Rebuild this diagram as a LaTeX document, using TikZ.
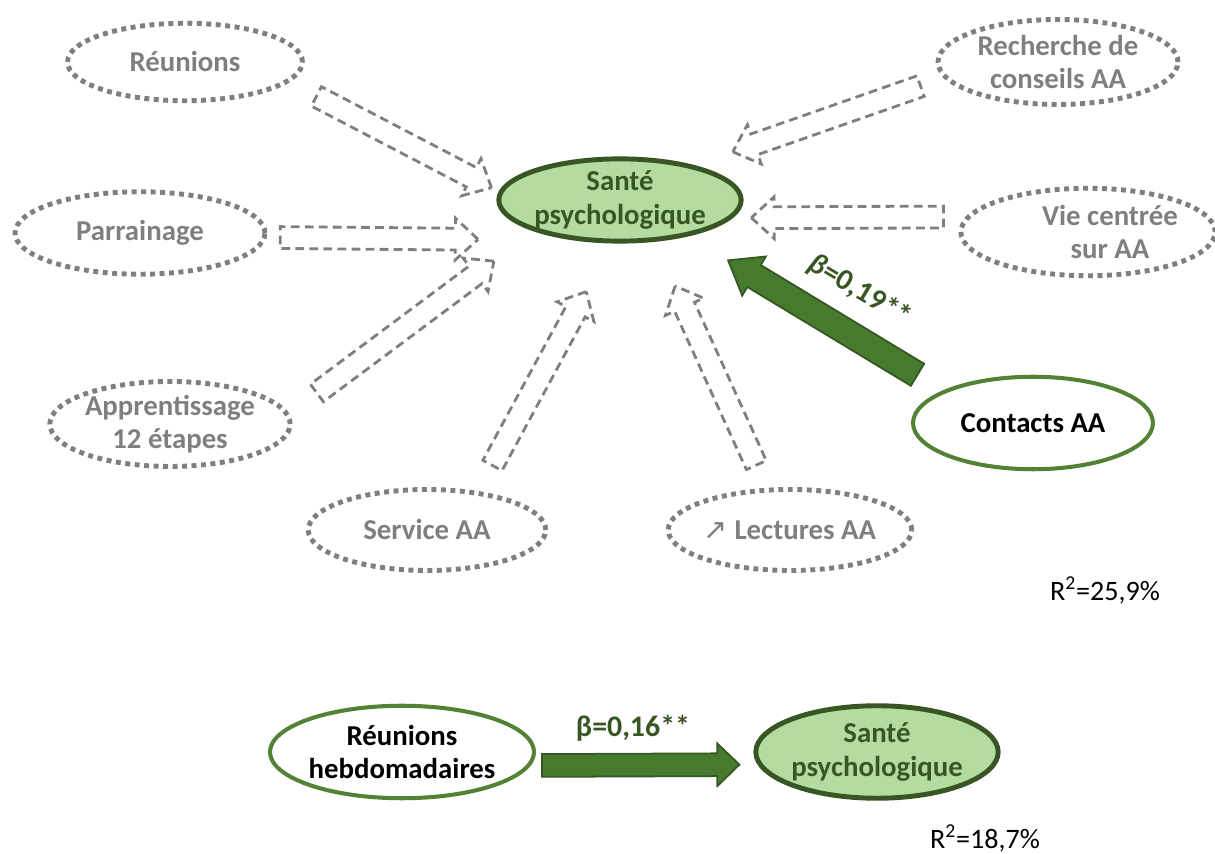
\documentclass[tikz,border=0pt]{standalone}
\usepackage{fontspec}
\setmainfont{Carlito}
\newfontfamily\flechefont{DejaVu Sans}
\usepackage{tikz}
\usetikzlibrary{shapes.geometric,shapes.arrows,calc}
\definecolor{gristrait}{HTML}{7F7F7F}
\definecolor{vertfonce}{HTML}{375623}
\definecolor{vertmoyen}{HTML}{538135}
\definecolor{vertfleche}{HTML}{467A2C}
\definecolor{vertpale}{HTML}{B4DCA0}

% fleche bloc entre deux ancres, raccourcie de #3 et #5
\newcommand\fleche[5]{%
  \path let \p1=($(#2)!#3!(#4)$), \p2=($(#4)!#5!(#2)$),
    \n1={atan2(\y2-\y1,\x2-\x1)}, \n2={veclen(\x2-\x1,\y2-\y1)} in
    node[#1,rotate=\n1,minimum height=\n2] at ($(\p1)!0.5!(\p2)$) {};}

\begin{document}
\begin{tikzpicture}[x=0.02cm,y=-0.02cm,font=\bfseries\fontsize{16.4}{19}\selectfont,
  facteur/.style={ellipse,draw=gristrait,line width=2.8pt,dash pattern=on 2.8pt off 2.6pt,text=gristrait,align=center,inner sep=0pt},
  sante/.style={ellipse,draw=vertfonce,fill=vertpale,line width=2.8pt,text=vertfonce,align=center,inner sep=0pt},
  predicteur/.style={ellipse,draw=vertmoyen,line width=2.3pt,align=center,inner sep=0pt},
  pointille/.style={single arrow,draw=gristrait,line width=1.6pt,dash pattern=on 5pt off 3pt,inner xsep=0pt,inner ysep=0.19cm,
    single arrow head extend=0.2cm,single arrow tip angle=85},
  effet/.style={single arrow,draw=vertfonce,fill=vertfleche,line width=1pt,inner xsep=0pt},
  coef/.style={text=vertfonce,font=\bfseries\fontsize{17}{20}\selectfont}]
\useasboundingbox (0,0) rectangle (1215,854);

\node[sante,minimum width=4.7cm,minimum height=1.6cm] (sante) at (620,200) {Santé\\psychologique};
\node[facteur,minimum width=4.7cm,minimum height=1.55cm] (reunions) at (185,62) {Réunions};
\node[facteur,minimum width=5cm,minimum height=1.65cm] (parrainage) at (140,233) {Parrainage};
\node[facteur,minimum width=4.75cm,minimum height=1.7cm] (apprentissage) at (170,424) {Apprentissage\\12 étapes};
\node[facteur,minimum width=4.75cm,minimum height=1.62cm] (service) at (427,530) {Service AA};
\node[facteur,minimum width=4.75cm,minimum height=1.62cm] (lectures) at (790,530) {{\flechefont\mdseries ↗} Lectures AA};
\node[facteur,minimum width=4.8cm,minimum height=1.7cm] (recherche) at (1058,62) {Recherche de\\conseils AA};
\node[facteur,minimum width=4.8cm,minimum height=1.75cm] (vie) at (1088,232) {\hspace*{0.88cm}Vie centrée\\\hspace*{0.88cm}sur AA};
\node[predicteur,minimum width=4.8cm,minimum height=1.85cm] (contacts) at (1033,423) {Contacts AA};

\fleche{pointille}{reunions.-11}{0.49cm}{sante.176}{0.28cm}
\fleche{pointille}{parrainage.-2}{0.15cm}{sante.-140}{2cm}
\fleche{pointille}{apprentissage.5}{0.57cm}{sante.-160}{1.12cm}
\fleche{pointille}{service.37}{0.46cm}{sante.-100}{1.21cm}
\fleche{pointille}{lectures.119}{0.38cm}{sante.-50}{1.09cm}
\fleche{pointille}{recherche.-172}{0.37cm}{sante.25}{0.93cm}
\fleche{pointille}{vie.173}{0.32cm}{sante.-9}{0.49cm}
\fleche{effet,inner ysep=0.24cm,single arrow head extend=0.2cm,single arrow tip angle=74}{contacts.160}{0.43cm}{sante.-28}{1.1cm}
\node[coef,rotate=-30.8] (beta1) at (860,291) {\textit{β}=0,19**};
\node[font=\mdseries\fontsize{16}{19}\selectfont] (r1) at (1105,590) {R\textsuperscript{2}=25,9\%};

\node[predicteur,minimum width=5.2cm,minimum height=1.85cm] (hebdo) at (402,752) {Réunions\\hebdomadaires};
\node[sante,minimum width=4.8cm,minimum height=1.85cm] (sante2) at (877,752) {Santé\\psychologique};
\fleche{effet,inner ysep=0.21cm,single arrow head extend=0.2cm,single arrow tip angle=88}{hebdo.-6}{0.11cm}{sante2.-174}{0.48cm}
\node[coef] (beta2) at (633,728) {β=0,16**};
\node[font=\mdseries\fontsize{16}{19}\selectfont] (r2) at (985,838) {R\textsuperscript{2}=18,7\%};
\end{tikzpicture}
\end{document}
